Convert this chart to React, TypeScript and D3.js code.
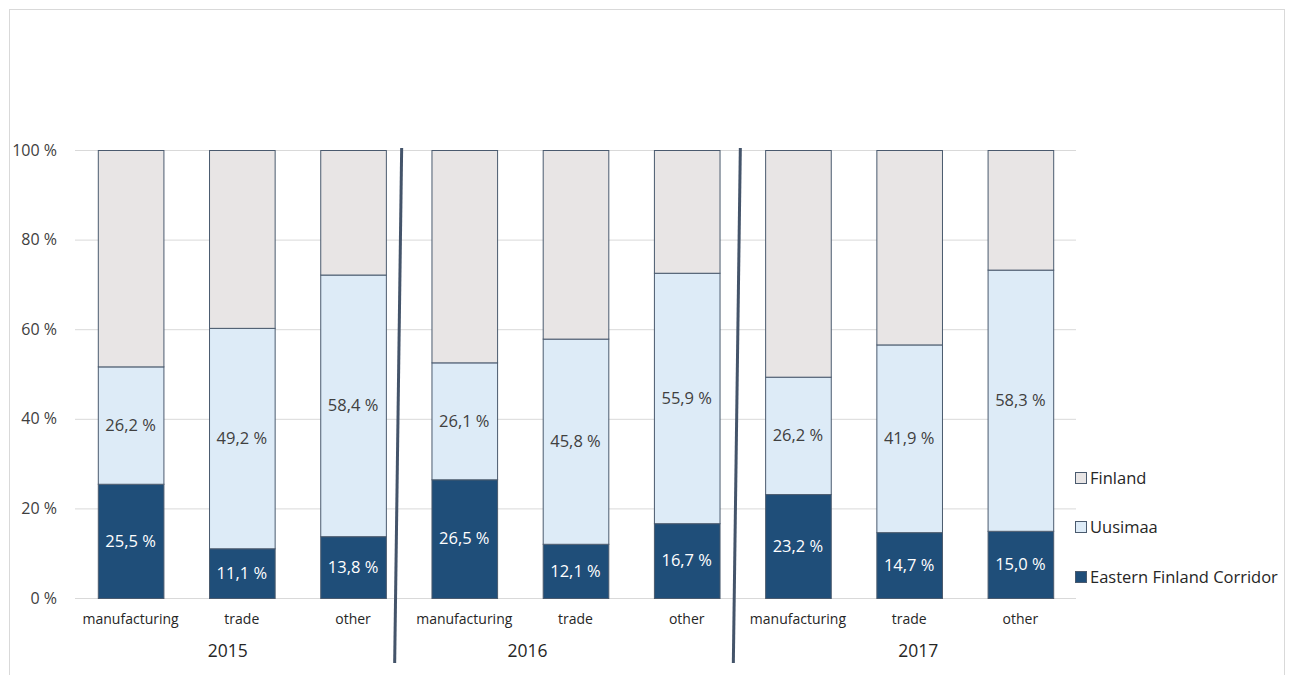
import * as d3 from "d3";
import { useEffect, useRef } from "react";

const years = ["2015", "2016", "2017"];
const sectors = ["manufacturing", "trade", "other"];
const eastern = [25.5, 11.1, 13.8, 26.5, 12.1, 16.7, 23.2, 14.7, 15.0];
const uusimaa = [26.2, 49.2, 58.4, 26.1, 45.8, 55.9, 26.2, 41.9, 58.3];
const yTicks = [0, 20, 40, 60, 80, 100];
const seriesNames = ["Finland", "Uusimaa", "Eastern Finland Corridor"];

const colors = {
  eastern: "#1f4e79",
  uusimaa: "#ddebf7",
  finland: "#e8e5e5",
  stroke: "#4a5a6e",
};

const fmt = (v: number) => v.toFixed(1).replace(".", ",") + " %";

const App: React.FC = () => {
  const svgRef = useRef<SVGSVGElement | null>(null);

  useEffect(() => {
    const width = 1294;
    const height = 675;
    const margin = { top: 150, right: 218, bottom: 77, left: 75 };
    const font = "'Open Sans', 'Noto Sans', sans-serif";

    const svg = d3.select(svgRef.current);
    svg.selectAll("*").remove();

    // chart border
    svg
      .append("rect")
      .attr("x", 9.5)
      .attr("y", 9.5)
      .attr("width", 1275)
      .attr("height", 700)
      .attr("fill", "#fff")
      .attr("stroke", "#d9d9d9");

    const keys: string[] = [];
    years.forEach((yr) => sectors.forEach((s) => keys.push(yr + "|" + s)));

    const x = d3
      .scaleBand<string>()
      .domain(keys)
      .range([margin.left, width - margin.right])
      .paddingInner(0.41)
      .paddingOuter(0.205);

    const y = d3
      .scaleLinear()
      .domain([0, 100])
      .range([height - margin.bottom, margin.top]);

    // gridlines
    svg
      .append("g")
      .selectAll("line")
      .data(yTicks)
      .join("line")
      .attr("x1", margin.left)
      .attr("x2", width - margin.right)
      .attr("y1", (d) => y(d) + 0.5)
      .attr("y2", (d) => y(d) + 0.5)
      .attr("stroke", "#d9d9d9")
      .attr("stroke-width", 1);

    svg
      .append("g")
      .selectAll("text")
      .data(yTicks)
      .join("text")
      .attr("x", 57)
      .attr("y", (d) => y(d))
      .attr("dy", "0.35em")
      .attr("text-anchor", "end")
      .attr("font-family", font)
      .attr("font-size", 16)
      .attr("fill", "#404040")
      .text((d) => d + " %");

    const rows = keys.map((k, i) => ({
      key: k,
      e: eastern[i],
      u: uusimaa[i],
      f: 100 - eastern[i] - uusimaa[i],
    }));

    const bars = svg.append("g");
    rows.forEach((r) => {
      const segs = [
        { y0: 0, y1: r.e, fill: colors.eastern },
        { y0: r.e, y1: r.e + r.u, fill: colors.uusimaa },
        { y0: r.e + r.u, y1: 100, fill: colors.finland },
      ];
      segs.forEach((s) => {
        bars
          .append("rect")
          .attr("x", x(r.key)! + 0.5)
          .attr("y", y(s.y1) + 0.5)
          .attr("width", x.bandwidth())
          .attr("height", y(s.y0) - y(s.y1))
          .attr("fill", s.fill)
          .attr("stroke", colors.stroke)
          .attr("stroke-width", 1);
      });
      const cx = x(r.key)! + x.bandwidth() / 2;
      bars
        .append("text")
        .attr("x", cx)
        .attr("y", y(r.e / 2))
        .attr("dy", "0.35em")
        .attr("text-anchor", "middle")
        .attr("font-family", font)
        .attr("font-size", 16.5)
        .attr("fill", "#ffffff")
        .text(fmt(r.e));
      bars
        .append("text")
        .attr("x", cx)
        .attr("y", y(r.e + r.u / 2))
        .attr("dy", "0.35em")
        .attr("text-anchor", "middle")
        .attr("font-family", font)
        .attr("font-size", 16.5)
        .attr("fill", "#404040")
        .text(fmt(r.u));
    });

    // category labels
    svg
      .append("g")
      .selectAll("text")
      .data(keys)
      .join("text")
      .attr("x", (d) => x(d)! + x.bandwidth() / 2)
      .attr("y", 624)
      .attr("text-anchor", "middle")
      .attr("font-family", font)
      .attr("font-size", 14)
      .attr("fill", "#262626")
      .text((d) => d.split("|")[1]);

    // year labels (placed slightly off-centre, as in the source)
    const step = x.step();
    const yearShift = [-14, -48, 9];
    svg
      .append("g")
      .selectAll("text")
      .data(years)
      .join("text")
      .attr("x", (_, i) => margin.left + step * (i * 3 + 1.5) + yearShift[i])
      .attr("y", 657)
      .attr("text-anchor", "middle")
      .attr("font-family", font)
      .attr("font-size", 17.5)
      .attr("fill", "#262626")
      .text((d) => d);

    // group separators (hand-drawn slanted lines)
    const sepTop = [-7, -2];
    const sepBottom = [-14, -9];
    svg
      .append("g")
      .selectAll("line")
      .data([1, 2])
      .join("line")
      .attr("x1", (d, i) => margin.left + step * d * 3 + sepTop[i])
      .attr("y1", 148)
      .attr("x2", (d, i) => margin.left + step * d * 3 + sepBottom[i])
      .attr("y2", 663)
      .attr("stroke", "#44546a")
      .attr("stroke-width", 3);

    // legend
    const legendY = [478, 527, 577];
    const legendFill = [colors.finland, colors.uusimaa, colors.eastern];
    const lg = svg.append("g");
    seriesNames.forEach((name, i) => {
      lg.append("rect")
        .attr("x", 1075.5)
        .attr("y", legendY[i] - 5.5)
        .attr("width", 11)
        .attr("height", 11)
        .attr("fill", legendFill[i])
        .attr("stroke", colors.stroke);
      lg.append("text")
        .attr("x", 1090)
        .attr("y", legendY[i])
        .attr("dy", "0.35em")
        .attr("font-family", font)
        .attr("font-size", 16.5)
        .attr("fill", "#262626")
        .text(name);
    });
  }, []);

  return (
    <svg
      ref={svgRef}
      width={1294}
      height={675}
      style={{ position: "absolute", left: 0, top: 0, display: "block" }}
    ></svg>
  );
};

export default App;
